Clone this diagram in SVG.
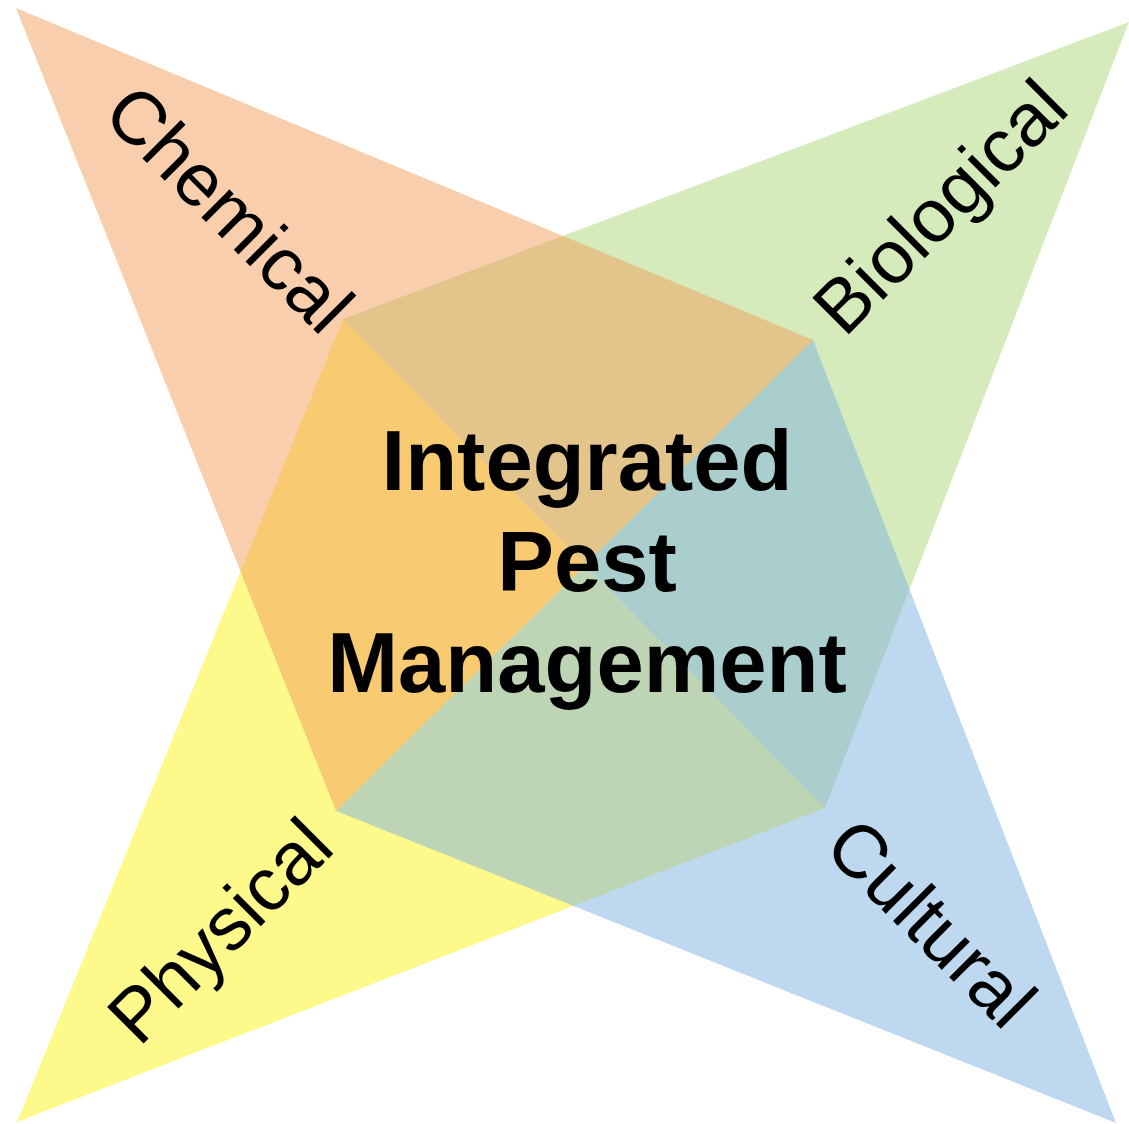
<svg xmlns="http://www.w3.org/2000/svg" width="1129" height="1124" viewBox="0 0 1129 1124">
  <style>
    .petal { fill-opacity: 0.5; stroke: none; }
    .label { font-family: "Liberation Sans", Arial, sans-serif; font-size: 75px; fill: #000; text-anchor: middle; }
    .title { font-family: "Liberation Sans", Arial, sans-serif; font-size: 85px; font-weight: bold; fill: #000; text-anchor: middle; }
  </style>
  <rect width="1129" height="1124" fill="#ffffff"/>

  <!-- four translucent triangles, painted back to front -->
  <g id="physical">
    <polygon class="petal" points="17,1122 343,319 825,808" fill="#FDF317"/>
    <text class="label" transform="translate(238,949) rotate(-45)">Physical</text>
  </g>
  <g id="biological">
    <polygon class="petal" points="1129,22 343,319 825,808" fill="#ABD777"/>
    <text class="label" transform="translate(958,225) rotate(-45)">Biological</text>
  </g>
  <g id="cultural">
    <polygon class="petal" points="1116,1123 813,340 336,811" fill="#7DB1DF"/>
    <text class="label" transform="translate(913,941) rotate(45)">Cultural</text>
  </g>
  <g id="chemical">
    <polygon class="petal" points="16,8 813,340 336,811" fill="#F19D59"/>
    <text class="label" transform="translate(211,227) rotate(45)">Chemical</text>
  </g>

  <!-- central title -->
  <g id="ipm">
    <text class="title" x="587" y="490">Integrated</text>
    <text class="title" x="587" y="591">Pest</text>
    <text class="title" x="587" y="692">Management</text>
  </g>
</svg>
